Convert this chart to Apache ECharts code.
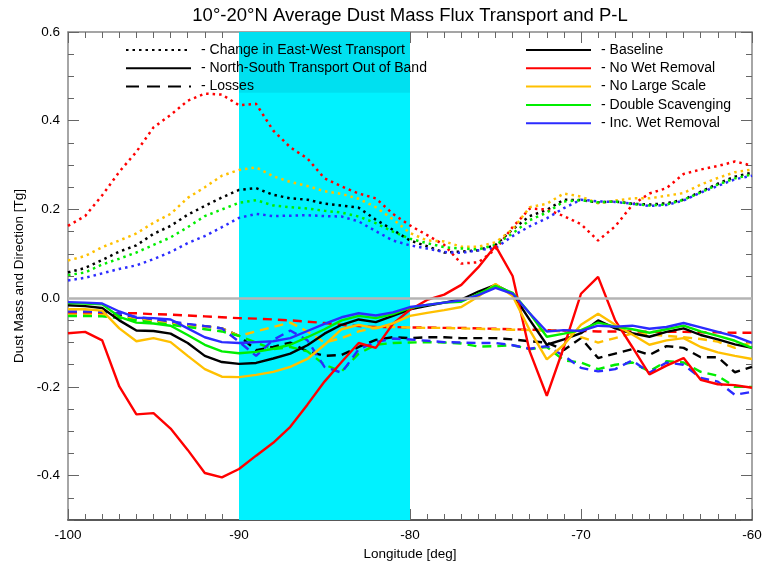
<!DOCTYPE html>
<html>
<head>
<meta charset="utf-8">
<title>Dust Mass Flux Transport and P-L</title>
<script src="https://cdn.jsdelivr.net/npm/echarts@6/dist/echarts.min.js"></script>
<style>
  html, body { margin: 0; padding: 0; background: #fff; }
  #chart { width: 767px; height: 562px; }
</style>
</head>
<body>
<div id="chart"></div>
<script>
// longitudes [deg]
const lon = [-100, -99, -98, -97, -96, -95, -94, -93, -92, -91, -90, -89, -88, -87, -86, -85, -84, -83, -82, -81,
  -80, -79, -78, -77, -76, -75, -74, -73, -72, -71, -70, -69, -68, -67, -66, -65, -64, -63, -62, -61, -60]

// change in east-west transport (dotted)
const ewBaseline = [0.058, 0.068, 0.086, 0.105, 0.119, 0.145, 0.163, 0.188, 0.208, 0.227, 0.244, 0.248, 0.233, 0.225, 0.222, 0.213, 0.209, 0.204, 0.177, 0.154,
  0.13, 0.117, 0.103, 0.105, 0.108, 0.12, 0.155, 0.185, 0.199, 0.222, 0.221, 0.216, 0.218, 0.213, 0.211, 0.214, 0.222, 0.24, 0.258, 0.274, 0.283]
const ewNoWet = [0.163, 0.185, 0.232, 0.285, 0.33, 0.385, 0.413, 0.445, 0.461, 0.459, 0.435, 0.438, 0.378, 0.34, 0.315, 0.27, 0.252, 0.236, 0.225, 0.19,
  0.164, 0.142, 0.12, 0.078, 0.081, 0.11, 0.16, 0.202, 0.2, 0.185, 0.167, 0.13, 0.162, 0.21, 0.236, 0.248, 0.28, 0.29, 0.298, 0.308, 0.299]
const ewNoLarge = [0.085, 0.095, 0.115, 0.13, 0.146, 0.17, 0.19, 0.226, 0.25, 0.276, 0.289, 0.295, 0.275, 0.262, 0.253, 0.241, 0.235, 0.224, 0.205, 0.178,
  0.147, 0.13, 0.128, 0.116, 0.116, 0.126, 0.155, 0.205, 0.213, 0.236, 0.229, 0.214, 0.22, 0.225, 0.225, 0.231, 0.237, 0.256, 0.271, 0.284, 0.29]
const ewDouble = [0.052, 0.058, 0.076, 0.089, 0.103, 0.12, 0.137, 0.16, 0.185, 0.2, 0.215, 0.221, 0.209, 0.205, 0.202, 0.197, 0.193, 0.184, 0.169, 0.15,
  0.134, 0.124, 0.115, 0.112, 0.11, 0.12, 0.146, 0.176, 0.193, 0.218, 0.221, 0.216, 0.218, 0.212, 0.209, 0.211, 0.222, 0.238, 0.256, 0.27, 0.279]
const ewIncWet = [0.04, 0.046, 0.056, 0.066, 0.074, 0.088, 0.104, 0.124, 0.14, 0.16, 0.181, 0.19, 0.185, 0.186, 0.187, 0.185, 0.184, 0.173, 0.151, 0.13,
  0.119, 0.112, 0.104, 0.102, 0.108, 0.113, 0.14, 0.162, 0.18, 0.203, 0.222, 0.218, 0.217, 0.213, 0.208, 0.21, 0.22, 0.238, 0.253, 0.268, 0.276]

// north-south transport out of band (solid)
const nsBaseline = [-0.016, -0.018, -0.022, -0.05, -0.073, -0.074, -0.08, -0.101, -0.13, -0.144, -0.148, -0.146, -0.136, -0.125, -0.106, -0.08, -0.06, -0.048, -0.054, -0.04,
  -0.025, -0.017, -0.01, -0.003, 0.015, 0.03, 0.01, -0.049, -0.105, -0.093, -0.079, -0.05, -0.068, -0.079, -0.087, -0.076, -0.068, -0.083, -0.093, -0.104, -0.112]
const nsNoWet = [-0.079, -0.076, -0.095, -0.199, -0.262, -0.259, -0.294, -0.342, -0.394, -0.404, -0.385, -0.355, -0.326, -0.29, -0.24, -0.188, -0.144, -0.101, -0.112, -0.058,
  -0.026, -0.004, 0.008, 0.03, 0.07, 0.118, 0.05, -0.12, -0.22, -0.11, 0.01, 0.048, -0.05, -0.11, -0.172, -0.152, -0.135, -0.184, -0.194, -0.196, -0.202]
const nsNoLarge = [-0.025, -0.025, -0.028, -0.068, -0.097, -0.09, -0.099, -0.13, -0.16, -0.177, -0.178, -0.173, -0.166, -0.155, -0.137, -0.105, -0.07, -0.06, -0.068, -0.057,
  -0.04, -0.033, -0.027, -0.02, 0.004, 0.032, 0.005, -0.072, -0.138, -0.105, -0.06, -0.035, -0.06, -0.082, -0.105, -0.095, -0.09, -0.11, -0.122, -0.13, -0.137]
const nsDouble = [-0.011, -0.012, -0.014, -0.042, -0.055, -0.057, -0.062, -0.083, -0.105, -0.12, -0.124, -0.121, -0.114, -0.105, -0.088, -0.07, -0.05, -0.04, -0.045, -0.036,
  -0.022, -0.015, -0.01, -0.008, 0.01, 0.028, 0.012, -0.034, -0.087, -0.08, -0.072, -0.055, -0.064, -0.07, -0.078, -0.07, -0.062, -0.075, -0.085, -0.096, -0.112]
const nsIncWet = [-0.009, -0.01, -0.012, -0.03, -0.044, -0.045, -0.048, -0.068, -0.088, -0.099, -0.101, -0.099, -0.097, -0.09, -0.074, -0.058, -0.043, -0.034, -0.039, -0.032,
  -0.02, -0.015, -0.01, -0.005, 0.007, 0.023, 0.01, -0.034, -0.075, -0.072, -0.074, -0.062, -0.064, -0.062, -0.069, -0.065, -0.056, -0.066, -0.076, -0.086, -0.101]

// losses (dashed)
const lossBaseline = [-0.035, -0.035, -0.035, -0.04, -0.045, -0.05, -0.055, -0.06, -0.063, -0.068, -0.085, -0.117, -0.11, -0.1, -0.12, -0.13, -0.128, -0.11, -0.094, -0.088,
  -0.09, -0.088, -0.088, -0.09, -0.09, -0.09, -0.093, -0.097, -0.1, -0.117, -0.09, -0.135, -0.125, -0.115, -0.128, -0.108, -0.112, -0.133, -0.133, -0.167, -0.155]
const lossNoWet = [-0.034, -0.034, -0.034, -0.034, -0.034, -0.036, -0.037, -0.039, -0.041, -0.043, -0.045, -0.046, -0.048, -0.05, -0.053, -0.056, -0.06, -0.063, -0.065, -0.065,
  -0.066, -0.066, -0.067, -0.067, -0.068, -0.069, -0.07, -0.071, -0.072, -0.073, -0.074, -0.075, -0.075, -0.075, -0.076, -0.076, -0.076, -0.077, -0.077, -0.078, -0.078]
const lossNoLarge = [-0.037, -0.037, -0.038, -0.042, -0.047, -0.052, -0.056, -0.06, -0.064, -0.068, -0.085, -0.075, -0.065, -0.055, -0.075, -0.1, -0.09, -0.075, -0.066, -0.065,
  -0.066, -0.067, -0.067, -0.068, -0.069, -0.07, -0.071, -0.072, -0.073, -0.075, -0.088, -0.1, -0.09, -0.08, -0.082, -0.085, -0.088, -0.092, -0.098, -0.112, -0.099]
const lossDouble = [-0.04, -0.04, -0.041, -0.045, -0.05, -0.055, -0.06, -0.065, -0.07, -0.075, -0.085, -0.1, -0.115, -0.11, -0.12, -0.15, -0.165, -0.125, -0.105, -0.101,
  -0.1, -0.099, -0.1, -0.102, -0.109, -0.108, -0.106, -0.115, -0.11, -0.14, -0.145, -0.16, -0.15, -0.145, -0.165, -0.142, -0.145, -0.166, -0.175, -0.2, -0.2]
const lossIncWet = [-0.03, -0.03, -0.031, -0.035, -0.042, -0.047, -0.052, -0.058, -0.063, -0.068, -0.098, -0.13, -0.094, -0.073, -0.095, -0.155, -0.168, -0.115, -0.099, -0.091,
  -0.093, -0.096, -0.099, -0.1, -0.101, -0.101, -0.106, -0.114, -0.108, -0.13, -0.157, -0.165, -0.16, -0.14, -0.168, -0.145, -0.15, -0.18, -0.188, -0.218, -0.211]

const runNames = ['Baseline', 'No Wet Removal', 'No Large Scale', 'Double Scavenging', 'Inc. Wet Removal']
const runColors = ['#000000', '#ff0000', '#ffc000', '#00ee00', '#2b2bff']
const ewData = [ewBaseline, ewNoWet, ewNoLarge, ewDouble, ewIncWet]
const nsData = [nsBaseline, nsNoWet, nsNoLarge, nsDouble, nsIncWet]
const lossData = [lossBaseline, lossNoWet, lossNoLarge, lossDouble, lossIncWet]
const styleNames = ['- Change in East-West Transport', '- North-South Transport Out of Band', '- Losses']

const font = 'Liberation Sans, Arial, Helvetica, sans-serif'
const chart = echarts.init(document.getElementById('chart'))

const pairs = vals => lon.map((x, i) => [x, vals[i]])

const lineSeries = (name, vals, color, type, width) => ({
  name: name,
  type: 'line',
  data: pairs(vals),
  symbol: 'none',
  silent: true,
  animation: false,
  lineStyle: { color: color, width: width, type: type, cap: 'butt' },
  z: 3,
})

const series = []
// cyan band + zero line
series.push({
  name: 'band',
  type: 'line',
  data: [],
  z: 1,
  silent: true,
  markArea: {
    silent: true,
    itemStyle: { color: '#00f2ff' },
    data: [
      [{ xAxis: -90 }, { xAxis: -80 }],
      [{ xAxis: -90, yAxis: 0.463, itemStyle: { color: '#00e0f0' } }, { xAxis: -80, yAxis: 0.6 }],
    ],
  },
  markLine: {
    silent: true,
    symbol: ['none', 'none'],
    label: { show: false },
    lineStyle: { color: '#b4b4b4', width: 2.5, type: 'solid' },
    data: [{ yAxis: 0 }],
  },
})
runNames.forEach((n, i) => series.push(lineSeries(n + ' losses', lossData[i], runColors[i], [9, 6], 2.4)))
runNames.forEach((n, i) => series.push(lineSeries(n + ' E-W', ewData[i], runColors[i], [2.5, 4], 2.5)))
runNames.forEach((n, i) => series.push(lineSeries(n + ' N-S', nsData[i], runColors[i], 'solid', 2.4)))

// legend-only entries
const styleTypes = [[2.5, 4], 'solid', [13, 8]]
styleNames.forEach((n, i) => series.push({
  name: n, type: 'line', data: [], symbol: 'none',
  itemStyle: { color: '#000', opacity: 0 },
  lineStyle: { color: '#000', width: 3, type: styleTypes[i], cap: 'butt' },
}))
runNames.forEach((n, i) => series.push({
  name: '- ' + n, type: 'line', data: [], symbol: 'none',
  itemStyle: { color: runColors[i], opacity: 0 },
  lineStyle: { color: runColors[i], width: 3, type: 'solid' },
}))

const legendBase = {
  orient: 'vertical',
  itemWidth: 65,
  itemHeight: 14,
  itemGap: 4.3,
  selectedMode: false,
  itemStyle: { opacity: 0 },
  textStyle: { fontSize: 14, color: '#000', fontFamily: font, padding: [0, 0, 0, 5] },
}

const xAxisBase = {
  type: 'value', min: -100, max: -60, interval: 10,
  splitLine: { show: false },
  axisLine: { onZero: false, lineStyle: { color: '#888', width: 1.5 } },
  axisTick: { inside: true, length: 11, lineStyle: { color: '#666' } },
  minorTick: { show: true, splitNumber: 10, length: 6, lineStyle: { color: '#666' } },
}
const yAxisBase = {
  type: 'value', min: -0.5, max: 0.6,
  splitLine: { show: false },
  axisLine: { show: false, onZero: false },
  axisLabel: { show: false },
  axisTick: { inside: true, length: 11, lineStyle: { color: '#666' } },
}

chart.setOption({
  backgroundColor: '#fff',
  animation: false,
  graphic: [{
    type: 'text', x: 410, y: 6,
    style: { text: '10°-20°N Average Dust Mass Flux Transport and P-L', fill: '#000', font: '18.5px ' + font, textAlign: 'center' },
  }],
  grid: { left: 68, right: 15, top: 32, bottom: 42, outerBoundsMode: 'none' },
  legend: [
    Object.assign({}, legendBase, { left: 120, top: 38, data: styleNames }),
    Object.assign({}, legendBase, { left: 520, top: 38, data: runNames.map(n => '- ' + n) }),
  ],
  xAxis: [
    Object.assign({}, xAxisBase, {
      position: 'bottom',
      axisLine: { onZero: false, lineStyle: { color: '#222', width: 1.5 } },
      axisLabel: { color: '#000', fontSize: 13.5, margin: 8, fontFamily: font },
      name: 'Longitude [deg]', nameLocation: 'middle', nameGap: 22,
      nameTextStyle: { color: '#000', fontSize: 13.5, fontFamily: font },
    }),
    Object.assign({}, xAxisBase, { position: 'top', axisLabel: { show: false } }),
  ],
  yAxis: [
    Object.assign({}, yAxisBase, {
      position: 'left',
      axisLine: { show: true, onZero: false, lineStyle: { color: '#888', width: 1.5 } },
      axisLabel: {
        show: true, color: '#000', fontSize: 13.5, margin: 8, fontFamily: font,
        showMinLabel: false, formatter: v => v.toFixed(1),
      },
      name: 'Dust Mass and Direction [Tg]', nameLocation: 'middle', nameGap: 41,
      nameTextStyle: { color: '#000', fontSize: 13.5, fontFamily: font },
    }),
    Object.assign({}, yAxisBase, { position: 'left', interval: 0.05, axisTick: { inside: true, length: 6, lineStyle: { color: '#666' } } }),
    Object.assign({}, yAxisBase, {
      position: 'right',
      axisLine: { show: true, onZero: false, lineStyle: { color: '#888', width: 1.5 } },
    }),
    Object.assign({}, yAxisBase, { position: 'right', interval: 0.05, axisTick: { inside: true, length: 6, lineStyle: { color: '#666' } } }),
  ],
  series: series,
})
</script>
</body>
</html>
